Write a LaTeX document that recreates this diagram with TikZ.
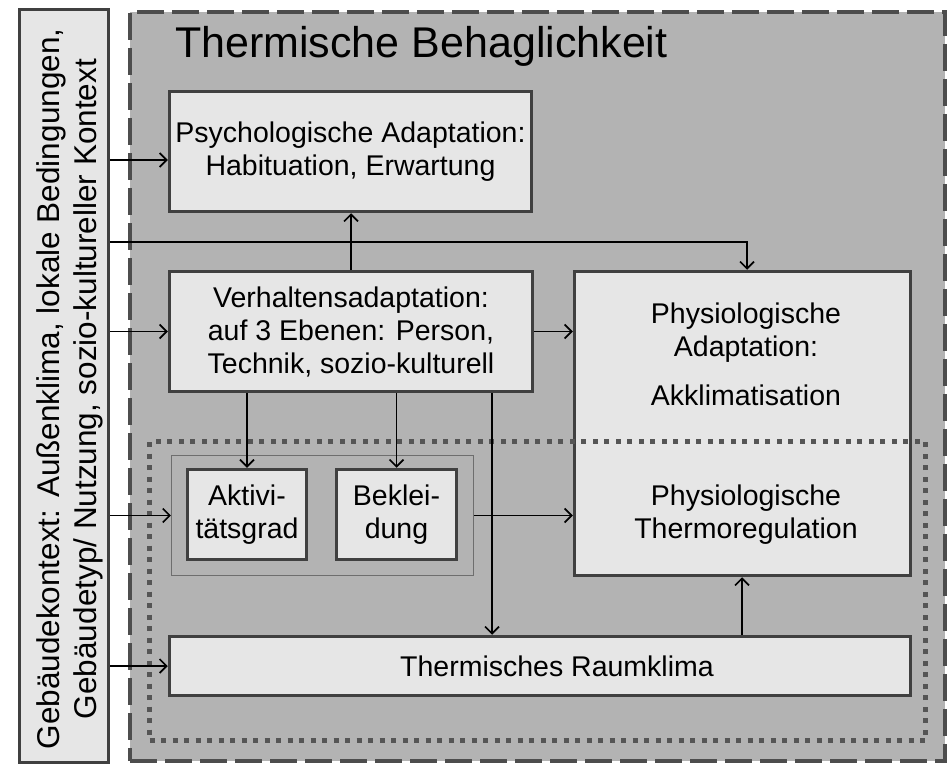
\documentclass[tikz,border=0pt]{standalone}
\usepackage{fontspec}
\setmainfont{Liberation Sans}
\usetikzlibrary{arrows.meta}
\definecolor{boxline}{HTML}{404040}
\definecolor{boxfill}{HTML}{E6E6E6}
\definecolor{areafill}{HTML}{B3B3B3}
\definecolor{dashline}{HTML}{4D4D4D}
\definecolor{dotline}{HTML}{555555}
\definecolor{groupline}{HTML}{6E6E6E}
\begin{document}
\begin{tikzpicture}[x=1pt,y=-1pt,
        body/.style={font=\fontsize{28.5}{33}\selectfont,align=center,inner sep=0pt},
        box/.style={body,draw=boxline,line width=3.5pt,fill=boxfill},
        pfeil/.style={line width=1.6pt,-{Straight Barb[length=7pt,width=14pt]}}]
                \useasboundingbox (0,0) rectangle (951,765);
                \node [draw=dashline,line width=4pt,dash pattern=on 27pt off 8pt,fill=areafill,minimum width=815pt,minimum height=749pt] (aussen) at (537.5,386.5) {};
                \node [anchor=base west,font=\fontsize{43}{50}\selectfont,inner sep=0pt] (titel) at (175,58) {Thermische Behaglichkeit};
                \node [draw=boxline,line width=3pt,fill=boxfill,minimum width=89pt,minimum height=753pt] (ctx) at (64,386) {};
                \node [rotate=90,align=center,font=\fontsize{31.5}{37}\selectfont] (ctxtext) at (70,389) {Gebäudekontext: Außenklima, lokale Bedingungen,\\Gebäudetyp/ Nutzung, sozio-kultureller Kontext};
                \node [box,minimum width=362pt,minimum height=120pt] (psych) at (350.5,151.5) {Psychologische Adaptation:\\Habituation, Erwartung};
                \node [box,minimum width=363pt,minimum height=120pt] (verh) at (351,331.5) {Verhaltensadaptation:\\auf 3 Ebenen: Person,\\Technik, sozio-kulturell};
                \node [box,minimum width=336pt,minimum height=304pt] (phys) at (742.5,423.5) {};
                \node [body] (physadapt) at (746,332.5) {Physiologische\\Adaptation:};
                \node [body] (akkli) at (746,395) {Akklimatisation};
                \node [body] (thermo) at (746,514.5) {Physiologische\\Thermoregulation};
                \node [box,minimum width=741pt,minimum height=59pt] (raum) at (540,666) {};
                \node [body] (raumtext) at (557,666) {Thermisches Raumklima};
                \node [draw=groupline,line width=1.2pt,fill=areafill,minimum width=302pt,minimum height=120pt] (gruppe) at (322.5,515.5) {};
                \node [box,minimum width=119pt,minimum height=90pt] (aktiv) at (247,514.5) {Aktivi-\\tätsgrad};
                \node [box,minimum width=120pt,minimum height=90pt] (bekl) at (396.5,514.5) {Beklei-\\dung};
                \node [draw=dotline,line width=5pt,dash pattern=on 5pt off 6.5pt,minimum width=776pt,minimum height=299pt] (physbereich) at (537.5,591) {};
                \coordinate (hpsych) at (0,160);
                \coordinate (hphys) at (0,242);
                \coordinate (vphys) at (747,0);
                \coordinate (vraum) at (492,0);
                \coordinate (vregel) at (742,0);
                \draw [pfeil] (ctx.east |- hpsych) -- (psych.west |- hpsych);
                \draw [pfeil] (ctx.east |- hphys) -| (vphys |- phys.north);
                \draw [pfeil] (verh.north) -- (verh.north |- psych.south);
                \draw [pfeil] (ctx.east |- verh.west) -- (verh.west);
                \draw [pfeil] (verh.east) -- (verh.east -| phys.west);
                \draw [pfeil] (aktiv.north |- verh.south) -- (aktiv.north);
                \draw [pfeil] (bekl.north |- verh.south) -- (bekl.north);
                \draw [pfeil] (vraum |- verh.south) -- (vraum |- raum.north);
                \draw [pfeil] (ctx.east |- gruppe.west) -- (gruppe.west);
                \draw [pfeil] (gruppe.east) -- (gruppe.east -| phys.west);
                \draw [pfeil] (vregel |- raum.north) -- (vregel |- phys.south);
                \draw [pfeil] (ctx.east |- raum.west) -- (raum.west);
\end{tikzpicture}
\end{document}
